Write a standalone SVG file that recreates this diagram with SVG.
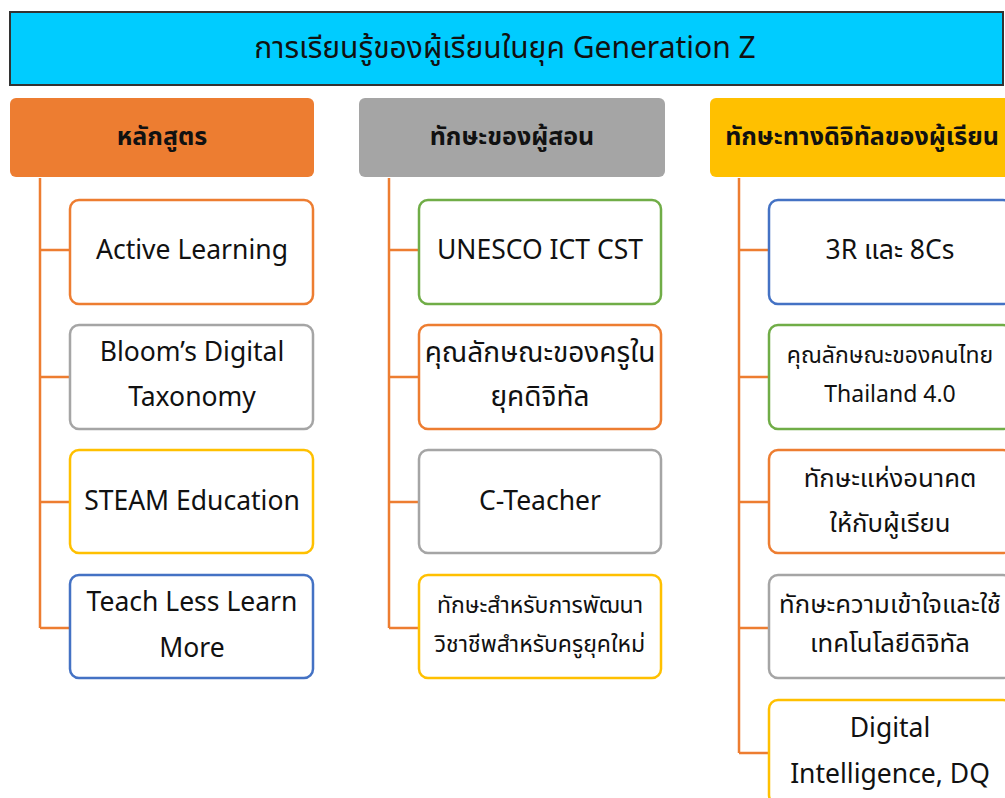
<svg xmlns="http://www.w3.org/2000/svg" width="1005" height="798" viewBox="0 0 1005 798">
<style>
text{font-family:"Noto Sans","Noto Sans Thai","Tahoma","DejaVu Sans",sans-serif;fill:#111;text-anchor:middle}
.t{font-size:30px}
.h{font-size:25px;font-weight:bold}
.b{font-size:26.5px}
.th{font-size:28px}
.tm{font-size:25.7px}
.s{font-size:23px}
.hd{stroke:none}
.bx{fill:#fff;stroke-width:2.5}
.o{stroke:#ED7D31}.g{stroke:#A5A5A5}.y{stroke:#FFC000}.bl{stroke:#4472C4}.gr{stroke:#70AD47}
.ln{fill:none;stroke:#ED7D31;stroke-width:2.5}
</style>
<rect width="1005" height="798" fill="#fff"/>
<g id="title">
<rect x="10" y="12" width="993" height="73" fill="#00CCFF" stroke="#333" stroke-width="2"/>
<text class="t" x="505" y="58">การเรียนรู้ของผู้เรียนในยุค Generation Z</text>
</g>
<g id="connectors">
<path class="ln" d="M40 178V628M40 250H70M40 377H70M40 502H70M40 628H70"/>
<path class="ln" d="M389 178V628M389 250H419M389 377H419M389 502H419M389 628H419"/>
<path class="ln" d="M739 178V753M739 250H769M739 377H769M739 502H769M739 628H769M739 753H769"/>
</g>
<g id="h1"><rect class="hd" x="10" y="98" width="304" height="79" rx="6" fill="#ED7D31"/><text class="h" x="162" y="145">หลักสูตร</text></g>
<g id="h2"><rect class="hd" x="359" y="98" width="306" height="79" rx="6" fill="#A5A5A5"/><text class="h" x="512" y="145">ทักษะของผู้สอน</text></g>
<g id="h3"><rect class="hd" x="710" y="98" width="310" height="79" rx="6" fill="#FFC000"/><text class="h" x="862" y="145">ทักษะทางดิจิทัลของผู้เรียน</text></g>

<g id="c1a"><rect class="bx o" x="70" y="200" width="243" height="104" rx="9"/><text class="b" x="192" y="259">Active Learning</text></g>
<g id="c1b"><rect class="bx g" x="70" y="325" width="243" height="104" rx="9"/><text class="b" x="192" y="361">Bloom’s Digital</text><text class="b" x="192" y="406">Taxonomy</text></g>
<g id="c1c"><rect class="bx y" x="70" y="450" width="243" height="103" rx="9"/><text class="b" x="192" y="510">STEAM Education</text></g>
<g id="c1d"><rect class="bx bl" x="70" y="575" width="243" height="103" rx="9"/><text class="b" x="192" y="611">Teach Less Learn</text><text class="b" x="192" y="657">More</text></g>

<g id="c2a"><rect class="bx gr" x="419" y="200" width="242" height="104" rx="9"/><text class="b" x="540" y="259">UNESCO ICT CST</text></g>
<g id="c2b"><rect class="bx o" x="419" y="325" width="242" height="104" rx="9"/><text class="th" x="540" y="362">คุณลักษณะของครูใน</text><text class="th" x="540" y="406">ยุคดิจิทัล</text></g>
<g id="c2c"><rect class="bx g" x="419" y="450" width="242" height="103" rx="9"/><text class="b" x="540" y="510">C-Teacher</text></g>
<g id="c2d"><rect class="bx y" x="419" y="575" width="242" height="103" rx="9"/><text class="s" x="540" y="613">ทักษะสำหรับการพัฒนา</text><text class="s" x="540" y="652">วิชาชีพสำหรับครูยุคใหม่</text></g>

<g id="c3a"><rect class="bx bl" x="769" y="200" width="243" height="104" rx="9"/><text class="b" x="890" y="259">3R และ 8Cs</text></g>
<g id="c3b"><rect class="bx gr" x="769" y="325" width="243" height="104" rx="9"/><text class="s" x="890" y="363">คุณลักษณะของคนไทย</text><text class="s" x="890" y="402">Thailand 4.0</text></g>
<g id="c3c"><rect class="bx o" x="769" y="450" width="243" height="103" rx="9"/><text class="tm" x="890" y="487">ทักษะแห่งอนาคต</text><text class="tm" x="890" y="532">ให้กับผู้เรียน</text></g>
<g id="c3d"><rect class="bx g" x="769" y="575" width="243" height="103" rx="9"/><text class="tm" x="890" y="613">ทักษะความเข้าใจและใช้</text><text class="tm" x="890" y="652">เทคโนโลยีดิจิทัล</text></g>
<g id="c3e"><rect class="bx y" x="769" y="700" width="243" height="104" rx="9"/><text class="b" x="890" y="737">Digital</text><text class="b" x="890" y="783">Intelligence, DQ</text></g>
</svg>
